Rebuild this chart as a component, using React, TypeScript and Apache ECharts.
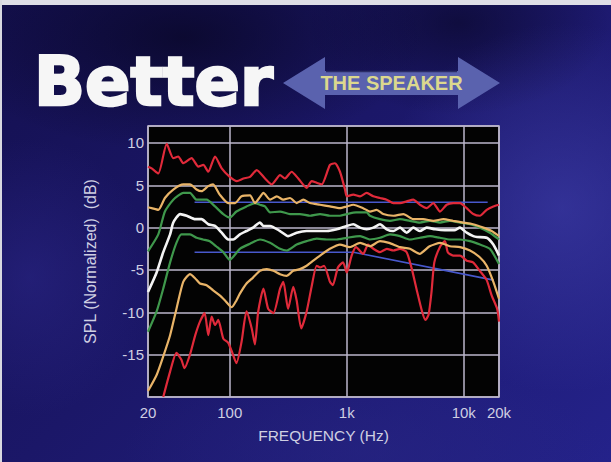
import React, { useEffect, useRef } from 'react';
import * as echarts from 'echarts';

// ---- Data (frequency in Hz, level in dB) ----
const redHighFreq = [20, 21.5, 24.5, 28.9, 32.9, 36.3, 40.1, 47.2, 53.8, 59.4, 65.5, 74.8, 85.3, 100, 115, 131, 149, 170, 200, 228, 269, 296, 338, 385, 454, 501, 553, 611, 718, 792, 875, 966, 1000, 1137, 1297, 1479, 1687, 1923, 2193, 2500, 2851, 3251, 3700, 4223, 4815, 5485, 6264, 7144, 8136, 9280, 10590, 12060, 13750, 15690, 17880, 20000];
const redHighDb = [7.2, 7.0, 6.4, 9.9, 8.2, 8.4, 7.6, 8.2, 7.2, 7.4, 6.6, 8.4, 7.0, 6.0, 5.5, 5.8, 6.0, 6.8, 5.8, 5.1, 6.2, 5.8, 6.6, 5.8, 4.7, 5.5, 5.3, 5.1, 7.4, 7.6, 6.6, 4.5, 3.7, 3.9, 3.7, 4.1, 3.7, 3.5, 3.3, 2.9, 2.9, 3.1, 3.3, 2.7, 2.3, 2.9, 1.9, 2.7, 2.9, 2.9, 2.3, 1.6, 1.4, 2.1, 2.5, 2.7];

const orangeHighFreq = [20, 21.5, 24.5, 27.9, 32.9, 40.1, 45.7, 52, 57.3, 65.5, 72, 82, 97, 111, 126, 149, 164, 181, 194, 221, 252, 287, 327, 373, 425, 485, 591, 718, 875, 1000, 1137, 1380, 1578, 1800, 2050, 2500, 3050, 3700, 4500, 5500, 6700, 8100, 9900, 12000, 14700, 17300, 20000];
const orangeHighDb = [2.4, 2.3, 2.1, 3.5, 4.5, 5.1, 5.1, 4.5, 4.3, 4.9, 5.1, 3.9, 2.9, 2.9, 3.7, 3.8, 2.9, 3.6, 4.1, 3.3, 3.7, 3.3, 3.5, 2.9, 3.3, 2.9, 2.7, 2.5, 2.3, 2.5, 2.7, 2.3, 1.9, 2.1, 1.6, 1.4, 1.6, 1.0, 1.0, 0.8, 1.0, 0.8, 0.6, 0.4, 0.0, -0.4, -1.0];

const greenHighFreq = [20, 24.5, 27.9, 32.9, 40.1, 45.7, 52, 63.4, 74.8, 88, 100, 114, 139, 164, 181, 200, 221, 269, 327, 398, 485, 591, 718, 875, 1000, 1200, 1480, 1578, 1923, 2340, 2850, 3470, 4220, 5150, 6260, 7620, 9280, 11300, 13750, 16700, 20000];
const greenHighDb = [-2.8, -0.8, 1.9, 3.3, 4.1, 4.1, 3.3, 3.3, 2.5, 1.6, 1.2, 1.9, 2.5, 2.9, 2.7, 2.5, 1.8, 1.9, 1.6, 1.6, 1.4, 1.6, 1.4, 1.4, 1.6, 1.8, 1.8, 1.4, 1.0, 0.8, 1.0, 0.8, 0.6, 0.8, 0.6, 0.8, 0.6, 0.4, 0.0, -0.6, -1.4];

const whiteFreq = [20, 23.7, 27, 30.9, 32.9, 37.6, 42.9, 50.7, 57.3, 65.5, 74.8, 85.3, 97, 107, 122, 139, 158, 181, 194, 221, 269, 315, 373, 454, 553, 674, 821, 1000, 1137, 1297, 1479, 1687, 1923, 2193, 2500, 2851, 3251, 3700, 4223, 4815, 5700, 6900, 8300, 9280, 10590, 12060, 13000, 15690, 17880, 20000];
const whiteDb = [-7.6, -5.3, -2.9, -0.8, 0.6, 1.6, 1.4, 1.0, 1.0, 0.4, 0.2, -0.6, -1.4, -1.4, -0.8, -0.4, 0.0, 0.6, 0.2, 0.2, -0.4, -1.0, -0.6, -0.4, -0.4, -0.4, -0.2, 0.2, 0.4, 0.0, -0.2, 0.0, 0.4, -0.2, -0.4, 0.0, -0.6, 0.0, -0.4, 0.0, -0.2, -0.3, -0.3, 0.0, -0.6, -1.0, -1.1, -1.2, -2.0, -3.3];

const greenLowFreq = [20, 23.7, 27, 30.9, 35, 38.6, 45.7, 52, 59, 67.5, 76.4, 88, 100, 122, 149, 181, 221, 269, 306, 373, 454, 553, 674, 821, 1000, 1300, 1578, 1923, 2340, 2850, 3470, 4220, 5150, 6260, 7620, 9280, 11300, 13750, 16700, 20000];
const greenLowDb = [-12.3, -9.9, -7.2, -4.1, -1.8, -0.8, -0.8, -1.2, -1.4, -1.6, -2.2, -2.9, -3.8, -2.5, -1.9, -1.4, -1.8, -2.5, -2.7, -2.0, -1.6, -1.3, -1.4, -1.4, -1.2, -1.0, -1.4, -1.2, -0.8, -1.0, -1.4, -1.2, -1.0, -1.2, -1.4, -1.4, -1.6, -2.0, -2.5, -4.3];

const orangeLowFreq = [20, 23.7, 27, 30.9, 35, 40, 45.7, 50.7, 55.6, 63.4, 72, 82, 91, 104, 114, 122, 139, 158, 181, 207, 236, 269, 306, 349, 398, 454, 517, 591, 718, 875, 1060, 1300, 1580, 1920, 2300, 2850, 3470, 4200, 5100, 6300, 7600, 9300, 11300, 13700, 15700, 17900, 20000];
const orangeLowDb = [-19.3, -17.4, -15.2, -12.7, -9.6, -6.4, -5.5, -6.0, -6.6, -6.8, -7.4, -8.0, -8.6, -9.4, -8.6, -7.8, -6.6, -5.9, -5.1, -4.9, -5.1, -5.5, -5.7, -5.1, -4.9, -4.5, -3.9, -3.3, -2.5, -2.0, -2.3, -1.8, -2.2, -1.6, -1.8, -2.3, -2.5, -3.1, -2.2, -1.8, -2.2, -2.3, -2.7, -3.5, -4.5, -6.4, -8.4];

const redLowFreq = [27, 30.9, 35, 38.6, 41, 45.7, 50.7, 55.6, 61, 65.5, 70, 74.8, 79.7, 88, 97, 104, 114, 126, 139, 154, 164, 175, 194, 213, 236, 269, 287, 315, 349, 373, 408, 454, 500, 553, 591, 640, 718, 760, 840, 930, 1000, 1100, 1200, 1380, 1520, 1690, 1920, 2200, 2500, 2850, 3250, 3600, 4000, 4400, 4700, 5000, 5300, 5600, 6300, 6900, 7300, 8100, 9300, 10600, 12000, 13700, 15700, 17300, 19300, 20000];
const redLowDb = [-20, -17.0, -14.8, -15.6, -16.6, -15.0, -12.7, -11.1, -10.1, -12.7, -10.5, -11.5, -10.9, -13.1, -13.6, -14.6, -16.0, -13.5, -9.9, -11.9, -13.8, -9.9, -7.2, -9.6, -10.1, -7.2, -6.4, -9.6, -7.0, -8.6, -11.9, -9.9, -7.0, -4.5, -4.7, -4.5, -6.4, -6.8, -4.7, -4.1, -5.3, -3.3, -2.3, -3.1, -2.0, -2.5, -2.9, -2.5, -2.7, -2.5, -2.9, -4.9, -7.6, -9.9, -10.9, -10.3, -7.6, -4.1, -2.2, -1.6, -2.9, -3.3, -3.3, -3.9, -4.1, -5.1, -6.2, -8.0, -9.6, -11.1];

const blueHighFreq = [50, 16000];
const blueHighDb = [3.0, 3.0];
const blueLowFreq = [50, 1140, 18000];
const blueLowDb = [-2.9, -2.9, -6.2];

const yHiddenLabels = [-20, 12];
const titleText = 'Better';
const arrowText = 'THE SPEAKER';
const xAxisTitle = 'FREQUENCY (Hz)';
const yAxisTitle = 'SPL (Normalized)  (dB)';

const pairs = (f: number[], d: number[]) => f.map((x, i) => [x, d[i]]);

const RED = '#e02a3a';
const ORANGE = '#e9b468';
const GREEN = '#3f984c';
const WHITE = '#f4f4f4';
const BLUE = '#4858cc';
const LABEL = '#cfcfe2';
const GRID = '#bdb7cc';
const FONT = '"Liberation Sans", Arial, sans-serif';

function line(name: string, f: number[], d: number[], color: string, width = 2.2, smooth: number | boolean = 0.2) {
  return {
    name,
    type: 'line',
    data: pairs(f, d),
    showSymbol: false,
    smooth,
    z: 5,
    lineStyle: { color, width },
    emphasis: { disabled: true },
  };
}

export default function App() {
  const ref = useRef<HTMLDivElement>(null);
  useEffect(() => {
    const chart = echarts.init(ref.current!, null, { renderer: 'svg' });
    chart.setOption({
      animation: false,
      backgroundColor: 'transparent',
      grid: {
        left: 148,
        right: 112,
        top: 126,
        bottom: 65,
        show: true,
        backgroundColor: '#030303',
        borderColor: GRID,
        borderWidth: 1.5,
      },
      xAxis: {
        type: 'log',
        logBase: 10,
        min: 20,
        max: 20000,
        z: 4,
        axisLine: { show: false },
        axisTick: { show: false },
        splitLine: { show: true, lineStyle: { color: GRID, width: 1.5 } },
        minorSplitLine: { show: false },
        axisLabel: {
          color: LABEL,
          fontSize: 15,
          fontFamily: FONT,
          margin: 8,
          showMinLabel: true,
          showMaxLabel: true,
          formatter: (v: number) => {
            const r = Math.round(v);
            return r >= 1000 ? r / 1000 + 'k' : String(r);
          },
        },
        name: xAxisTitle,
        nameLocation: 'middle',
        nameGap: 30,
        nameTextStyle: { color: LABEL, fontSize: 15.5, fontFamily: FONT },
      },
      yAxis: {
        type: 'value',
        min: -20,
        max: 12,
        interval: 5,
        z: 4,
        axisLine: { show: false },
        axisTick: { show: false },
        splitLine: { show: true, lineStyle: { color: GRID, width: 1.5 } },
        axisLabel: {
          color: LABEL,
          fontSize: 15,
          fontFamily: FONT,
          margin: 4,
          formatter: (v: number) => (yHiddenLabels.includes(Math.round(v)) ? '' : String(v)),
        },
        name: yAxisTitle,
        nameLocation: 'middle',
        nameGap: 50,
        nameRotate: 90,
        nameTextStyle: { color: LABEL, fontSize: 16, fontFamily: FONT },
      },
      series: [
        line('blueHigh', blueHighFreq, blueHighDb, BLUE, 1.6, false),
        line('blueLow', blueLowFreq, blueLowDb, BLUE, 1.6, false),
        line('redLow', redLowFreq, redLowDb, RED),
        line('orangeLow', orangeLowFreq, orangeLowDb, ORANGE),
        line('greenLow', greenLowFreq, greenLowDb, GREEN),
        line('greenHigh', greenHighFreq, greenHighDb, GREEN),
        line('orangeHigh', orangeHighFreq, orangeHighDb, ORANGE),
        line('white', whiteFreq, whiteDb, WHITE, 2.6),
        line('redHigh', redHighFreq, redHighDb, RED),
      ],
      graphic: [
        { type: 'rect', shape: { x: 0, y: 0, width: 611, height: 5 }, style: { fill: '#dedee6' } },
        { type: 'rect', shape: { x: 0, y: 0, width: 2, height: 462 }, style: { fill: '#d8d8e0' } },
        {
          type: 'text',
          x: 34,
          y: 82,
          style: {
            text: titleText,
            font: 'bold 67px "DejaVu Sans", sans-serif',
            fill: '#f6f6f6',
            stroke: '#f6f6f6',
            lineWidth: 2.5,
            align: 'left',
            verticalAlign: 'middle',
            textAlign: 'left',
            textVerticalAlign: 'middle',
          },
        },
        {
          type: 'polygon',
          shape: {
            points: [
              [283, 83], [325, 57], [325, 71], [458, 71], [458, 57],
              [500, 83], [458, 109], [458, 95], [325, 95], [325, 109],
            ],
          },
          style: { fill: '#5a62ae' },
        },
        {
          type: 'line',
          shape: { x1: 326, y1: 71.5, x2: 457, y2: 71.5 },
          style: { stroke: '#2a2c66', lineWidth: 1.5 },
        },
        {
          type: 'text',
          x: 391.5,
          y: 83,
          style: {
            text: arrowText,
            font: 'bold 20px "Liberation Sans", Arial, sans-serif',
            fill: '#dcd88e',
            align: 'center',
            verticalAlign: 'middle',
            textAlign: 'center',
            textVerticalAlign: 'middle',
          },
        },
      ],
    });
    return () => chart.dispose();
  }, []);
  return (
    <div
      ref={ref}
      style={{
        position: 'fixed',
        left: 0,
        top: 0,
        width: 611,
        height: 462,
        background:
          'radial-gradient(ellipse 30% 40% at 92% 45%, rgba(70,70,180,0.5), rgba(70,70,180,0) 100%),' +
          'radial-gradient(ellipse 40% 25% at 30% 8%, rgba(8,6,35,0.75), rgba(8,6,35,0) 100%),' +
          'radial-gradient(ellipse 25% 20% at 75% 5%, rgba(8,6,35,0.6), rgba(8,6,35,0) 100%),' +
          'radial-gradient(ellipse 20% 30% at 5% 60%, rgba(45,40,140,0.5), rgba(45,40,140,0) 100%),' +
          'radial-gradient(ellipse 40% 20% at 60% 98%, rgba(40,38,130,0.5), rgba(40,38,130,0) 100%),' +
          'linear-gradient(135deg, #141050 0%, #1b1768 45%, #24228a 100%)',
      }}
    />
  );
}
